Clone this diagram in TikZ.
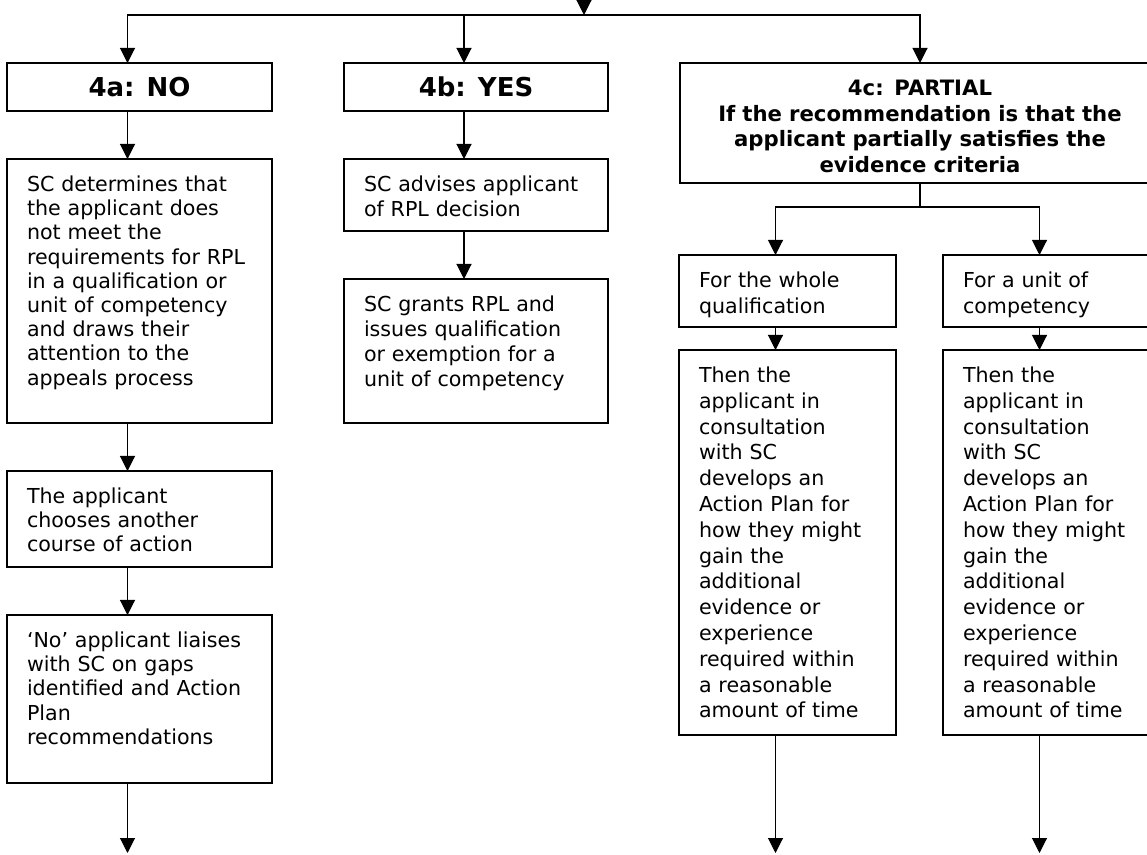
\documentclass[tikz,border=0pt]{standalone}
\usepackage{fontspec}
\setmainfont{DejaVu Sans}
\usetikzlibrary{arrows.meta}
\tikzset{
  box/.style={draw, line width=0.7pt, outer sep=0pt, anchor=north west, inner xsep=10pt, inner ysep=0pt, align=left, text height=16.25pt},
  leftbox/.style={box, text width=112.5pt, font=\fontsize{10.3}{12.1}\selectfont},
  midbox/.style={box, text width=112pt, font=\fontsize{10.3}{12.5}\selectfont},
  rightbox/.style={box, text width=88.5pt, font=\fontsize{10.3}{12.9}\selectfont},
  head/.style={draw, line width=0.7pt, outer sep=0pt, anchor=north west, inner sep=0pt, text height=10pt, font=\bfseries\fontsize{13}{15}\selectfont},
  arr/.style={line width=0.55pt, -{Triangle[length=7.5pt,width=7.5pt]}}
}
\begin{document}
\begin{tikzpicture}[x=0.5pt,y=-0.5pt]
      \useasboundingbox (0,0) rectangle (1147,855);
      \node[head, minimum width=132.5pt, minimum height=24pt] (noA) at (7,63) {4a: NO};
      \node[head, minimum width=132pt, minimum height=24pt] (yesB) at (344,63) {4b: YES};
      \node[box, text width=240pt, inner xsep=0pt, align=center, text depth=43.75pt,
        font=\bfseries\fontsize{10.6}{12.85}\selectfont] (partial) at (680,63)
        {4c: PARTIAL\\If the recommendation is that the\\applicant partially satisfies the\\evidence criteria};
      \node[leftbox, text depth=115.75pt] (determine) at (7,159)
        {SC determines that\\the applicant does\\not meet the\\requirements for RPL\\in a qualification or\\unit of competency\\and draws their\\attention to the\\appeals process};
      \node[leftbox, text depth=31.75pt] (choose) at (7,471)
        {The applicant\\chooses another\\course of action};
      \node[leftbox, text depth=67.75pt] (liaise) at (7,615)
        {‘No’ applicant liaises\\with SC on gaps\\identified and Action\\Plan\\recommendations};
      \node[midbox, text depth=19.75pt] (advise) at (344,159)
        {SC advises applicant\\of RPL decision};
      \node[midbox, text depth=55.75pt] (grant) at (344,279)
        {SC grants RPL and\\issues qualification\\or exemption for a\\unit of competency};
      \node[rightbox, text depth=19.75pt] (whole) at (679,255)
        {For the whole\\qualification};
      \node[rightbox, text depth=19.75pt] (unit) at (943,255)
        {For a unit of\\competency};
      \node[rightbox, text depth=176.25pt] (planW) at (679,350)
        {Then the\\applicant in\\consultation\\with SC\\develops an\\Action Plan for\\how they might\\gain the\\additional\\evidence or\\experience\\required within\\a reasonable\\amount of time};
      \node[rightbox, text depth=176.25pt] (planU) at (943,350)
        {Then the\\applicant in\\consultation\\with SC\\develops an\\Action Plan for\\how they might\\gain the\\additional\\evidence or\\experience\\required within\\a reasonable\\amount of time};
      \coordinate (in) at (584,-30);
      \coordinate (fork) at (584,15);
      \coordinate (split) at ([yshift=-12pt]partial.south);
      \coordinate (outA) at (127.5,853);
      \coordinate (outW) at (775.5,853);
      \coordinate (outU) at (1039.5,853);
      \begin{scope}[arr]
        \draw (in) -- (fork);
        \draw (fork) -| ([xshift=-6pt]noA.north);
        \draw (fork) -| ([xshift=-6pt]yesB.north);
        \draw (fork) -| (partial.north);
        \draw ([xshift=-6pt]noA.south) -- ([xshift=-6pt]determine.north);
        \draw ([xshift=-6pt]determine.south) -- ([xshift=-6pt]choose.north);
        \draw ([xshift=-6pt]choose.south) -- ([xshift=-6pt]liaise.north);
        \draw ([xshift=-6pt]liaise.south) -- (outA);
        \draw ([xshift=-6pt]yesB.south) -- ([xshift=-6pt]advise.north);
        \draw ([xshift=-6pt]advise.south) -- ([xshift=-6pt]grant.north);
        \draw[-] (partial.south) -- (split);
        \draw (split) -| ([xshift=-6pt]whole.north);
        \draw (split) -| ([xshift=-6pt]unit.north);
        \draw ([xshift=-6pt]whole.south) -- ([xshift=-6pt]planW.north);
        \draw ([xshift=-6pt]unit.south) -- ([xshift=-6pt]planU.north);
        \draw ([xshift=-6pt]planW.south) -- (outW);
        \draw ([xshift=-6pt]planU.south) -- (outU);
      \end{scope}
    \end{tikzpicture}
\end{document}
